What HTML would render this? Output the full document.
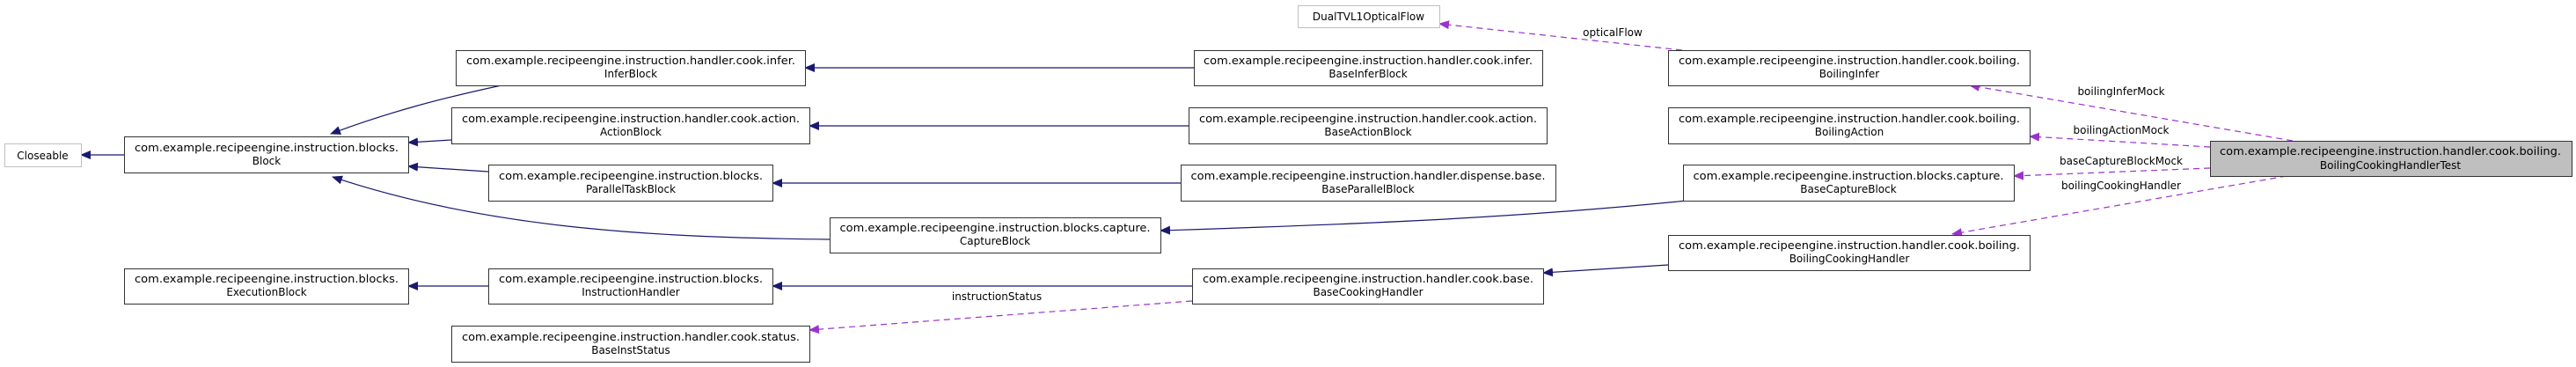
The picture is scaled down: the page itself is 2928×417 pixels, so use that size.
<!DOCTYPE html>
<html><head><meta charset="utf-8"><style>
html,body{margin:0;padding:0;background:#fff;}
svg{display:block;}
text{font-family:"DejaVu Sans","Liberation Sans",sans-serif;font-size:12px;fill:#000;}
</style></head><body>
<svg width="2928" height="417" viewBox="0 0 2928 417" xmlns="http://www.w3.org/2000/svg">
<defs>
<marker id="ab" markerWidth="12" markerHeight="10" refX="11" refY="5" orient="auto" markerUnits="userSpaceOnUse"><path d="M0,0 L12,5 L0,10 z" fill="#191970"/></marker>
<marker id="ap" markerWidth="12" markerHeight="10" refX="11" refY="5" orient="auto" markerUnits="userSpaceOnUse"><path d="M0,0 L12,5 L0,10 z" fill="#9a32cd"/></marker>
</defs>
<g fill="none" stroke="#191970" stroke-width="1.2" marker-end="url(#ab)">
<path d="M141,176 L92,176"/>
<path d="M570,97 C 500,112 440,128 376,152"/>
<path d="M513,159 L464,162"/>
<path d="M555,195 L464,189"/>
<path d="M943,272 C 760,270 560,262 378,201"/>
<path d="M1357,77 L915,77"/>
<path d="M1351,143 L920,143"/>
<path d="M1342,208 L878,208"/>
<path d="M1917,228 C 1700,250 1500,256 1319,262"/>
<path d="M555,325 L464,325"/>
<path d="M1355,325 L878,325"/>
<path d="M1896,301 L1754,310"/>
</g>
<g fill="none" stroke="#9a32cd" stroke-width="1.2" stroke-dasharray="7,5" marker-end="url(#ap)">
<path d="M1355,342 L920,375"/>
<path d="M1912,57 L1636,27"/>
<path d="M2606,160 L2239,97"/>
<path d="M2512,167 L2307,155"/>
<path d="M2512,191 L2289,200"/>
<path d="M2599,200 L2219,266"/>
</g>
<g text-anchor="middle">
<text x="1133" y="341">instructionStatus</text>
<text x="1833" y="41">opticalFlow</text>
<text x="2411" y="108">boilingInferMock</text>
<text x="2411" y="152">boilingActionMock</text>
<text x="2411" y="187">baseCaptureBlockMock</text>
<text x="2411" y="215">boilingCookingHandler</text>
</g>
<g stroke-width="1">
<rect x="5.5" y="163.5" width="87" height="26" fill="#fff" stroke="#bfbfbf"/>
<rect x="1475.5" y="6.5" width="161" height="25" fill="#fff" stroke="#bfbfbf"/>
<g fill="#fff" stroke="#333">
<rect x="141.5" y="155.5" width="323" height="41"/>
<rect x="141.5" y="305.5" width="323" height="40"/>
<rect x="518.5" y="57.5" width="397" height="40"/>
<rect x="513.5" y="122.5" width="407" height="41"/>
<rect x="555.5" y="187.5" width="323" height="41"/>
<rect x="943.5" y="247.5" width="376" height="40"/>
<rect x="555.5" y="305.5" width="323" height="40"/>
<rect x="513.5" y="370.5" width="407" height="41"/>
<rect x="1357.5" y="57.5" width="396" height="40"/>
<rect x="1351.5" y="122.5" width="407" height="41"/>
<rect x="1342.5" y="187.5" width="426" height="41"/>
<rect x="1355.5" y="305.5" width="399" height="40"/>
<rect x="1896.5" y="57.5" width="411" height="40"/>
<rect x="1896.5" y="122.5" width="411" height="41"/>
<rect x="1913.5" y="187.5" width="376" height="41"/>
<rect x="1896.5" y="267.5" width="411" height="40"/>
</g>
<rect x="2512.5" y="160.5" width="411" height="40" fill="#bfbfbf" stroke="#333"/>
</g>
<g text-anchor="middle">
<text x="48.5" y="181">Closeable</text>
<text x="1555.5" y="23">DualTVL1OpticalFlow</text>

<text x="303" y="172" textLength="300" lengthAdjust="spacingAndGlyphs">com.example.recipeengine.instruction.blocks.</text><text x="303" y="187">Block</text>
<text x="303" y="321" textLength="300" lengthAdjust="spacingAndGlyphs">com.example.recipeengine.instruction.blocks.</text><text x="303" y="336">ExecutionBlock</text>
<text x="717" y="73" textLength="374" lengthAdjust="spacingAndGlyphs">com.example.recipeengine.instruction.handler.cook.infer.</text><text x="717" y="88">InferBlock</text>
<text x="717" y="139" textLength="384" lengthAdjust="spacingAndGlyphs">com.example.recipeengine.instruction.handler.cook.action.</text><text x="717" y="154">ActionBlock</text>
<text x="717" y="204" textLength="300" lengthAdjust="spacingAndGlyphs">com.example.recipeengine.instruction.blocks.</text><text x="717" y="219">ParallelTaskBlock</text>
<text x="1131" y="263" textLength="353" lengthAdjust="spacingAndGlyphs">com.example.recipeengine.instruction.blocks.capture.</text><text x="1131" y="278">CaptureBlock</text>
<text x="717" y="321" textLength="300" lengthAdjust="spacingAndGlyphs">com.example.recipeengine.instruction.blocks.</text><text x="717" y="336">InstructionHandler</text>
<text x="717" y="387" textLength="384" lengthAdjust="spacingAndGlyphs">com.example.recipeengine.instruction.handler.cook.status.</text><text x="717" y="402">BaseInstStatus</text>

<text x="1555" y="73" textLength="374" lengthAdjust="spacingAndGlyphs">com.example.recipeengine.instruction.handler.cook.infer.</text><text x="1555" y="88">BaseInferBlock</text>
<text x="1555" y="139" textLength="384" lengthAdjust="spacingAndGlyphs">com.example.recipeengine.instruction.handler.cook.action.</text><text x="1555" y="154">BaseActionBlock</text>
<text x="1555" y="204" textLength="403" lengthAdjust="spacingAndGlyphs">com.example.recipeengine.instruction.handler.dispense.base.</text><text x="1555" y="219">BaseParallelBlock</text>
<text x="1555" y="321" textLength="376" lengthAdjust="spacingAndGlyphs">com.example.recipeengine.instruction.handler.cook.base.</text><text x="1555" y="336">BaseCookingHandler</text>

<text x="2102" y="73" textLength="388" lengthAdjust="spacingAndGlyphs">com.example.recipeengine.instruction.handler.cook.boiling.</text><text x="2102" y="88">BoilingInfer</text>
<text x="2102" y="139" textLength="388" lengthAdjust="spacingAndGlyphs">com.example.recipeengine.instruction.handler.cook.boiling.</text><text x="2102" y="154">BoilingAction</text>
<text x="2101" y="204" textLength="353" lengthAdjust="spacingAndGlyphs">com.example.recipeengine.instruction.blocks.capture.</text><text x="2101" y="219">BaseCaptureBlock</text>
<text x="2102" y="283" textLength="388" lengthAdjust="spacingAndGlyphs">com.example.recipeengine.instruction.handler.cook.boiling.</text><text x="2102" y="298">BoilingCookingHandler</text>
<text x="2717" y="176" textLength="388" lengthAdjust="spacingAndGlyphs">com.example.recipeengine.instruction.handler.cook.boiling.</text><text x="2717" y="192">BoilingCookingHandlerTest</text>
</g>
</svg>
</body></html>
